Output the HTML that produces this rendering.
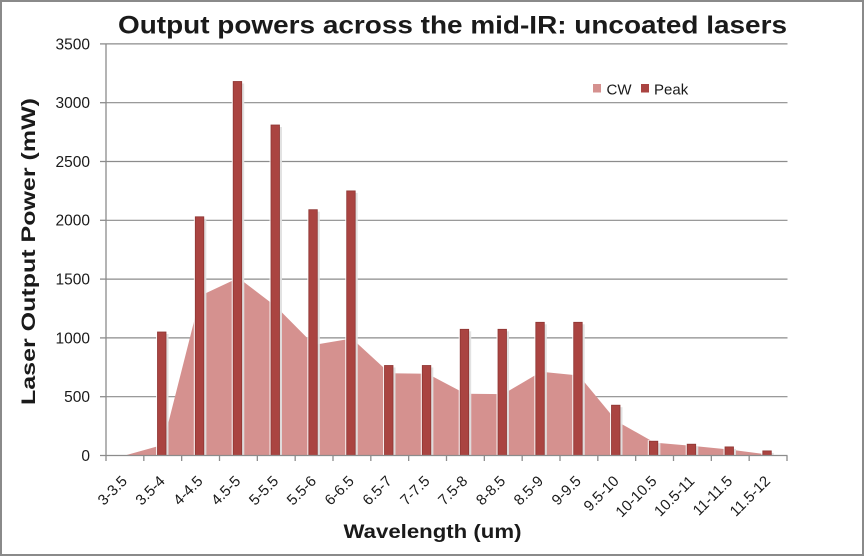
<!DOCTYPE html>
<html>
<head>
<meta charset="utf-8">
<style>
  html,body{margin:0;padding:0;background:#fff;}
  svg{display:block;}
  text{font-family:"Liberation Sans",Arial,sans-serif;fill:#1a1a1a;}
</style>
</head>
<body>
<svg width="865" height="557" viewBox="0 0 865 557" xmlns="http://www.w3.org/2000/svg">
  <rect x="0" y="0" width="865" height="557" fill="#fff"/>
  <rect x="1" y="1" width="862" height="554" fill="none" stroke="#8a8a8a" stroke-width="2"/>

  <!-- Title -->
  <text x="452.5" y="33.5" font-size="25" font-weight="bold" text-anchor="middle" textLength="669" lengthAdjust="spacingAndGlyphs">Output powers across the mid-IR: uncoated lasers</text>

  <!-- gridlines -->
  <g stroke="#8c8c8c" stroke-width="1.2">
    <line x1="106" y1="43.9" x2="787.5" y2="43.9"/>
    <line x1="106" y1="102.7" x2="787.5" y2="102.7"/>
    <line x1="106" y1="161.5" x2="787.5" y2="161.5"/>
    <line x1="106" y1="220.3" x2="787.5" y2="220.3"/>
    <line x1="106" y1="279.1" x2="787.5" y2="279.1"/>
    <line x1="106" y1="337.9" x2="787.5" y2="337.9"/>
    <line x1="106" y1="396.7" x2="787.5" y2="396.7"/>
  </g>

  <!-- CW area -->
  <polygon fill="#D5918F" points="124.92,455.5 124.92,455.5 162.75,444.9 200.58,295.6 238.42,277.9 276.25,306.7 314.08,344.9 351.92,338.5 389.75,373.2 427.58,373.8 465.42,393.8 503.25,394.1 541.08,371.8 578.92,375.5 616.75,421.2 654.58,442.6 692.42,445.9 730.25,449.6 768.08,454.6 768.08,455.5"/>

  <!-- Peak bars -->
  <g id="bars">
    <!-- each: halo, shadow, bar -->
    <g fill="#ffffff" opacity="0.85">
      <rect x="156" y="331" width="12.5" height="124.5"/>
      <rect x="193.8" y="215.8" width="12.5" height="239.7"/>
      <rect x="231.7" y="80.5" width="12.5" height="375"/>
      <rect x="269.5" y="124" width="12.5" height="331.5"/>
      <rect x="307.3" y="208.7" width="12.5" height="246.8"/>
      <rect x="345.2" y="189.9" width="12.5" height="265.6"/>
      <rect x="383" y="364.5" width="12.5" height="91"/>
      <rect x="420.8" y="364.5" width="12.5" height="91"/>
      <rect x="458.7" y="328.3" width="12.5" height="127.2"/>
      <rect x="496.5" y="328.3" width="12.5" height="127.2"/>
      <rect x="534.3" y="321.3" width="12.5" height="134.2"/>
      <rect x="572.2" y="321.3" width="12.5" height="134.2"/>
      <rect x="610" y="404.2" width="12.5" height="51.3"/>
      <rect x="647.8" y="440.2" width="12.5" height="15.3"/>
      <rect x="685.7" y="443.2" width="12.5" height="12.3"/>
      <rect x="723.5" y="445.9" width="12.5" height="9.6"/>
      <rect x="761.3" y="449.9" width="12.5" height="5.6"/>
    </g>
    <g fill="#cfcfcf" opacity="0.6">
      <rect x="166" y="334" width="2.5" height="121.5"/>
      <rect x="203.8" y="218.8" width="2.5" height="236.7"/>
      <rect x="241.7" y="83.5" width="2.5" height="372"/>
      <rect x="279.5" y="127" width="2.5" height="328.5"/>
      <rect x="317.3" y="211.7" width="2.5" height="243.8"/>
      <rect x="355.2" y="192.9" width="2.5" height="262.6"/>
      <rect x="393" y="367.5" width="2.5" height="88"/>
      <rect x="430.8" y="367.5" width="2.5" height="88"/>
      <rect x="468.7" y="331.3" width="2.5" height="124.2"/>
      <rect x="506.5" y="331.3" width="2.5" height="124.2"/>
      <rect x="544.3" y="324.3" width="2.5" height="131.2"/>
      <rect x="582.2" y="324.3" width="2.5" height="131.2"/>
      <rect x="620" y="407.2" width="2.5" height="48.3"/>
      <rect x="657.8" y="443.2" width="2.5" height="12.3"/>
      <rect x="695.7" y="446.2" width="2.5" height="9.3"/>
      <rect x="733.5" y="448.9" width="2.5" height="6.6"/>
      <rect x="771.3" y="452.9" width="2.5" height="2.6"/>
    </g>
    <g fill="#AA4441" stroke="#8e3633" stroke-width="0.8">
      <rect x="157.5" y="332" width="8.5" height="123.5"/>
      <rect x="195.3" y="216.8" width="8.5" height="238.7"/>
      <rect x="233.2" y="81.5" width="8.5" height="374"/>
      <rect x="271" y="125" width="8.5" height="330.5"/>
      <rect x="308.8" y="209.7" width="8.5" height="245.8"/>
      <rect x="346.7" y="190.9" width="8.5" height="264.6"/>
      <rect x="384.5" y="365.5" width="8.5" height="90"/>
      <rect x="422.3" y="365.5" width="8.5" height="90"/>
      <rect x="460.2" y="329.3" width="8.5" height="126.2"/>
      <rect x="498" y="329.3" width="8.5" height="126.2"/>
      <rect x="535.8" y="322.3" width="8.5" height="133.2"/>
      <rect x="573.7" y="322.3" width="8.5" height="133.2"/>
      <rect x="611.5" y="405.2" width="8.5" height="50.3"/>
      <rect x="649.3" y="441.2" width="8.5" height="14.3"/>
      <rect x="687.2" y="444.2" width="8.5" height="11.3"/>
      <rect x="725" y="446.9" width="8.5" height="8.6"/>
      <rect x="762.8" y="450.9" width="8.5" height="4.6"/>
    </g>
  </g>

  <!-- axes -->
  <g stroke="#8c8c8c" stroke-width="1.3" fill="none">
    <line x1="106" y1="43.9" x2="106" y2="461"/>
    <line x1="100" y1="455.5" x2="787.5" y2="455.5"/>
    <!-- y ticks -->
    <line x1="100" y1="43.9" x2="106" y2="43.9"/>
    <line x1="100" y1="102.7" x2="106" y2="102.7"/>
    <line x1="100" y1="161.5" x2="106" y2="161.5"/>
    <line x1="100" y1="220.3" x2="106" y2="220.3"/>
    <line x1="100" y1="279.1" x2="106" y2="279.1"/>
    <line x1="100" y1="337.9" x2="106" y2="337.9"/>
    <line x1="100" y1="396.7" x2="106" y2="396.7"/>
    <!-- x ticks -->
    <line x1="143.83" y1="455.5" x2="143.83" y2="461"/>
    <line x1="181.67" y1="455.5" x2="181.67" y2="461"/>
    <line x1="219.5" y1="455.5" x2="219.5" y2="461"/>
    <line x1="257.33" y1="455.5" x2="257.33" y2="461"/>
    <line x1="295.17" y1="455.5" x2="295.17" y2="461"/>
    <line x1="333" y1="455.5" x2="333" y2="461"/>
    <line x1="370.83" y1="455.5" x2="370.83" y2="461"/>
    <line x1="408.67" y1="455.5" x2="408.67" y2="461"/>
    <line x1="446.5" y1="455.5" x2="446.5" y2="461"/>
    <line x1="484.33" y1="455.5" x2="484.33" y2="461"/>
    <line x1="522.17" y1="455.5" x2="522.17" y2="461"/>
    <line x1="560" y1="455.5" x2="560" y2="461"/>
    <line x1="597.83" y1="455.5" x2="597.83" y2="461"/>
    <line x1="635.67" y1="455.5" x2="635.67" y2="461"/>
    <line x1="673.5" y1="455.5" x2="673.5" y2="461"/>
    <line x1="711.33" y1="455.5" x2="711.33" y2="461"/>
    <line x1="749.17" y1="455.5" x2="749.17" y2="461"/>
    <line x1="787" y1="455.5" x2="787" y2="461"/>
  </g>

  <!-- y labels -->
  <g font-size="15.5" text-anchor="end">
    <text x="90" y="49.3">3500</text>
    <text x="90" y="108.1">3000</text>
    <text x="90" y="166.9">2500</text>
    <text x="90" y="225.7">2000</text>
    <text x="90" y="284.5">1500</text>
    <text x="90" y="343.3">1000</text>
    <text x="90" y="402.1">500</text>
    <text x="90" y="460.9">0</text>
  </g>

  <!-- x labels -->
  <g font-size="15" text-anchor="end">
    <text transform="translate(128,482) rotate(-45)">3-3.5</text>
    <text transform="translate(165.8,482) rotate(-45)">3.5-4</text>
    <text transform="translate(203.6,482) rotate(-45)">4-4.5</text>
    <text transform="translate(241.4,482) rotate(-45)">4.5-5</text>
    <text transform="translate(279.3,482) rotate(-45)">5-5.5</text>
    <text transform="translate(317.1,482) rotate(-45)">5.5-6</text>
    <text transform="translate(354.9,482) rotate(-45)">6-6.5</text>
    <text transform="translate(392.8,482) rotate(-45)">6.5-7</text>
    <text transform="translate(430.6,482) rotate(-45)">7-7.5</text>
    <text transform="translate(468.4,482) rotate(-45)">7.5-8</text>
    <text transform="translate(506.3,482) rotate(-45)">8-8.5</text>
    <text transform="translate(544.1,482) rotate(-45)">8.5-9</text>
    <text transform="translate(581.9,482) rotate(-45)">9-9.5</text>
    <text transform="translate(619.8,482) rotate(-45)">9.5-10</text>
    <text transform="translate(657.6,482) rotate(-45)">10-10.5</text>
    <text transform="translate(695.4,482) rotate(-45)">10.5-11</text>
    <text transform="translate(733.3,482) rotate(-45)">11-11.5</text>
    <text transform="translate(771.1,482) rotate(-45)">11.5-12</text>
  </g>

  <!-- axis titles -->
  <text x="432.5" y="538" font-size="19" font-weight="bold" text-anchor="middle" textLength="178" lengthAdjust="spacingAndGlyphs">Wavelength (um)</text>
  <text transform="translate(35,251.5) rotate(-90)" font-size="19" font-weight="bold" text-anchor="middle" textLength="307" lengthAdjust="spacingAndGlyphs">Laser Output Power (mW)</text>

  <!-- legend -->
  <rect x="593" y="84" width="8" height="8.5" fill="#D5918F"/>
  <text x="606.5" y="94.5" font-size="15">CW</text>
  <rect x="641" y="84" width="8" height="8.5" fill="#AA4441"/>
  <text x="654" y="94.5" font-size="15">Peak</text>
</svg>
</body>
</html>
